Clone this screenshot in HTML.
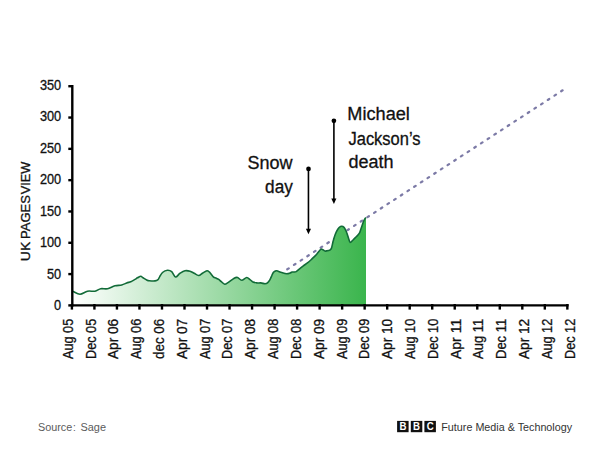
<!DOCTYPE html>
<html><head><meta charset="utf-8"><style>
html,body{margin:0;padding:0;background:#fff;width:600px;height:450px;overflow:hidden}
svg{display:block}
text{font-family:"Liberation Sans",sans-serif}
.k text{stroke:#111;stroke-width:0.3px}
</style></head><body>
<svg width="600" height="450" viewBox="0 0 600 450">
<defs>
<linearGradient id="g" gradientUnits="userSpaceOnUse" x1="73" y1="0" x2="365" y2="0">
<stop offset="0" stop-color="#ffffff"/>
<stop offset="1" stop-color="#3bb54d"/>
</linearGradient>
</defs>
<rect width="600" height="450" fill="#fff"/>
<line x1="287.25" y1="269.29" x2="564.5" y2="89.08" stroke="#7c7aa6" stroke-width="2.2" stroke-dasharray="1.8,6.167" stroke-linecap="round"/>
<path d="M73.3,291.5 C74.4,291.9 77.6,294.2 80.0,294.2 C82.4,294.1 85.0,291.7 87.5,291.2 C90.0,290.7 92.8,291.6 95.0,291.2 C97.2,290.8 98.7,289.1 100.8,288.7 C102.9,288.3 105.1,289.2 107.5,288.7 C109.9,288.2 112.6,286.4 115.0,285.8 C117.4,285.2 119.8,285.5 121.7,285.0 C123.7,284.5 125.2,283.6 126.7,283.0 C128.2,282.4 129.4,282.3 130.8,281.7 C132.2,281.1 133.9,280.0 135.0,279.4 C136.1,278.8 136.5,278.3 137.5,277.8 C138.5,277.3 139.9,276.2 140.8,276.2 C141.7,276.2 142.0,277.2 143.0,277.8 C144.0,278.4 145.7,279.5 146.7,280.0 C147.7,280.5 147.8,280.7 149.2,280.8 C150.6,280.9 153.5,281.1 155.0,280.9 C156.5,280.7 157.2,280.3 158.0,279.6 C158.8,278.9 158.8,278.1 159.6,276.9 C160.3,275.7 161.2,273.6 162.5,272.5 C163.8,271.4 166.0,270.4 167.5,270.3 C169.0,270.2 170.4,270.6 171.7,271.7 C173.0,272.8 174.1,276.7 175.5,277.0 C176.9,277.3 178.4,274.3 180.0,273.3 C181.6,272.3 183.3,271.2 185.0,270.8 C186.7,270.4 188.5,270.8 190.0,271.2 C191.5,271.6 192.8,272.6 194.2,273.3 C195.6,274.0 197.3,275.6 198.7,275.5 C200.1,275.4 201.3,273.8 202.7,273.0 C204.1,272.2 205.9,270.9 207.0,270.8 C208.1,270.7 208.4,271.2 209.5,272.2 C210.6,273.2 212.2,275.8 213.3,276.8 C214.4,277.8 215.1,277.7 216.0,278.1 C216.9,278.5 217.8,278.8 218.7,279.4 C219.6,280.0 220.3,280.9 221.3,281.7 C222.3,282.5 223.6,284.0 224.7,284.2 C225.8,284.4 226.4,283.6 228.0,282.6 C229.6,281.6 232.6,279.1 234.2,278.2 C235.8,277.3 236.2,277.1 237.5,277.5 C238.8,277.9 240.2,280.3 241.7,280.3 C243.2,280.3 245.3,277.6 246.7,277.5 C248.1,277.4 249.0,278.9 250.0,279.6 C251.0,280.3 251.4,281.1 252.5,281.7 C253.6,282.2 255.3,282.7 256.7,282.9 C258.1,283.1 259.4,282.8 260.8,282.9 C262.2,283.0 263.9,283.8 265.0,283.8 C266.1,283.8 266.7,283.6 267.5,282.9 C268.3,282.2 269.3,280.8 270.0,279.6 C270.7,278.4 271.1,277.0 271.7,275.8 C272.2,274.6 272.8,273.3 273.3,272.5 C273.9,271.7 274.4,271.5 275.0,271.2 C275.6,271.0 275.6,270.6 276.7,270.8 C277.8,271.0 280.0,272.0 281.7,272.5 C283.4,273.0 285.3,273.6 286.7,273.8 C288.1,273.9 289.1,273.4 290.0,273.1 C290.9,272.8 291.3,272.2 292.0,272.0 C292.7,271.8 293.3,272.1 294.0,272.0 C294.7,271.9 295.4,272.1 296.2,271.6 C297.0,271.2 297.7,270.3 298.9,269.3 C300.1,268.3 301.8,266.9 303.3,265.8 C304.8,264.7 306.3,263.9 307.8,262.7 C309.3,261.5 310.7,260.1 312.2,258.7 C313.7,257.3 315.3,255.8 316.7,254.2 C318.1,252.6 319.7,250.0 320.7,249.3 C321.7,248.6 322.2,249.5 322.9,249.8 C323.6,250.1 324.4,250.9 325.1,251.1 C325.8,251.2 326.6,250.8 327.3,250.7 C328.0,250.6 328.5,250.8 329.2,250.4 C329.9,250.0 330.8,249.9 331.4,248.4 C332.0,246.9 332.5,243.7 333.1,241.3 C333.8,238.9 334.5,236.2 335.3,234.2 C336.1,232.2 337.0,230.4 337.8,229.2 C338.6,228.0 339.2,227.3 339.9,226.8 C340.5,226.3 341.0,226.2 341.7,226.3 C342.4,226.4 343.1,226.5 343.8,227.1 C344.5,227.7 345.0,228.8 345.6,230.0 C346.2,231.2 346.7,232.6 347.2,234.0 C347.7,235.4 348.1,237.1 348.6,238.5 C349.1,239.9 349.5,242.2 350.2,242.4 C350.9,242.7 352.0,240.9 353.0,240.0 C354.0,239.1 355.1,237.9 356.2,236.8 C357.3,235.7 358.6,234.5 359.4,233.2 C360.2,231.9 360.5,230.3 361.0,228.8 C361.5,227.3 362.1,225.5 362.6,224.0 C363.1,222.5 363.7,221.0 364.2,220.0 C364.7,219.0 365.3,218.3 365.5,218.0 L366,218 L366,305.3 L73.3,305.3 Z" fill="url(#g)"/>
<path d="M73.3,291.5 C74.4,291.9 77.6,294.2 80.0,294.2 C82.4,294.1 85.0,291.7 87.5,291.2 C90.0,290.7 92.8,291.6 95.0,291.2 C97.2,290.8 98.7,289.1 100.8,288.7 C102.9,288.3 105.1,289.2 107.5,288.7 C109.9,288.2 112.6,286.4 115.0,285.8 C117.4,285.2 119.8,285.5 121.7,285.0 C123.7,284.5 125.2,283.6 126.7,283.0 C128.2,282.4 129.4,282.3 130.8,281.7 C132.2,281.1 133.9,280.0 135.0,279.4 C136.1,278.8 136.5,278.3 137.5,277.8 C138.5,277.3 139.9,276.2 140.8,276.2 C141.7,276.2 142.0,277.2 143.0,277.8 C144.0,278.4 145.7,279.5 146.7,280.0 C147.7,280.5 147.8,280.7 149.2,280.8 C150.6,280.9 153.5,281.1 155.0,280.9 C156.5,280.7 157.2,280.3 158.0,279.6 C158.8,278.9 158.8,278.1 159.6,276.9 C160.3,275.7 161.2,273.6 162.5,272.5 C163.8,271.4 166.0,270.4 167.5,270.3 C169.0,270.2 170.4,270.6 171.7,271.7 C173.0,272.8 174.1,276.7 175.5,277.0 C176.9,277.3 178.4,274.3 180.0,273.3 C181.6,272.3 183.3,271.2 185.0,270.8 C186.7,270.4 188.5,270.8 190.0,271.2 C191.5,271.6 192.8,272.6 194.2,273.3 C195.6,274.0 197.3,275.6 198.7,275.5 C200.1,275.4 201.3,273.8 202.7,273.0 C204.1,272.2 205.9,270.9 207.0,270.8 C208.1,270.7 208.4,271.2 209.5,272.2 C210.6,273.2 212.2,275.8 213.3,276.8 C214.4,277.8 215.1,277.7 216.0,278.1 C216.9,278.5 217.8,278.8 218.7,279.4 C219.6,280.0 220.3,280.9 221.3,281.7 C222.3,282.5 223.6,284.0 224.7,284.2 C225.8,284.4 226.4,283.6 228.0,282.6 C229.6,281.6 232.6,279.1 234.2,278.2 C235.8,277.3 236.2,277.1 237.5,277.5 C238.8,277.9 240.2,280.3 241.7,280.3 C243.2,280.3 245.3,277.6 246.7,277.5 C248.1,277.4 249.0,278.9 250.0,279.6 C251.0,280.3 251.4,281.1 252.5,281.7 C253.6,282.2 255.3,282.7 256.7,282.9 C258.1,283.1 259.4,282.8 260.8,282.9 C262.2,283.0 263.9,283.8 265.0,283.8 C266.1,283.8 266.7,283.6 267.5,282.9 C268.3,282.2 269.3,280.8 270.0,279.6 C270.7,278.4 271.1,277.0 271.7,275.8 C272.2,274.6 272.8,273.3 273.3,272.5 C273.9,271.7 274.4,271.5 275.0,271.2 C275.6,271.0 275.6,270.6 276.7,270.8 C277.8,271.0 280.0,272.0 281.7,272.5 C283.4,273.0 285.3,273.6 286.7,273.8 C288.1,273.9 289.1,273.4 290.0,273.1 C290.9,272.8 291.3,272.2 292.0,272.0 C292.7,271.8 293.3,272.1 294.0,272.0 C294.7,271.9 295.4,272.1 296.2,271.6 C297.0,271.2 297.7,270.3 298.9,269.3 C300.1,268.3 301.8,266.9 303.3,265.8 C304.8,264.7 306.3,263.9 307.8,262.7 C309.3,261.5 310.7,260.1 312.2,258.7 C313.7,257.3 315.3,255.8 316.7,254.2 C318.1,252.6 319.7,250.0 320.7,249.3 C321.7,248.6 322.2,249.5 322.9,249.8 C323.6,250.1 324.4,250.9 325.1,251.1 C325.8,251.2 326.6,250.8 327.3,250.7 C328.0,250.6 328.5,250.8 329.2,250.4 C329.9,250.0 330.8,249.9 331.4,248.4 C332.0,246.9 332.5,243.7 333.1,241.3 C333.8,238.9 334.5,236.2 335.3,234.2 C336.1,232.2 337.0,230.4 337.8,229.2 C338.6,228.0 339.2,227.3 339.9,226.8 C340.5,226.3 341.0,226.2 341.7,226.3 C342.4,226.4 343.1,226.5 343.8,227.1 C344.5,227.7 345.0,228.8 345.6,230.0 C346.2,231.2 346.7,232.6 347.2,234.0 C347.7,235.4 348.1,237.1 348.6,238.5 C349.1,239.9 349.5,242.2 350.2,242.4 C350.9,242.7 352.0,240.9 353.0,240.0 C354.0,239.1 355.1,237.9 356.2,236.8 C357.3,235.7 358.6,234.5 359.4,233.2 C360.2,231.9 360.5,230.3 361.0,228.8 C361.5,227.3 362.1,225.5 362.6,224.0 C363.1,222.5 363.7,221.0 364.2,220.0 C364.7,219.0 365.3,218.3 365.5,218.0" fill="none" stroke="#126b38" stroke-width="1.6" stroke-linejoin="round" stroke-linecap="round"/>
<g stroke="#000" stroke-width="2.4">
<line x1="72.3" y1="85" x2="72.3" y2="306.6"/>
<line x1="71" y1="305.4" x2="568.6" y2="305.4"/>
<line x1="71.90" y1="304" x2="71.90" y2="309.6"/><line x1="94.42" y1="304" x2="94.42" y2="309.6"/><line x1="116.94" y1="304" x2="116.94" y2="309.6"/><line x1="139.46" y1="304" x2="139.46" y2="309.6"/><line x1="161.98" y1="304" x2="161.98" y2="309.6"/><line x1="184.50" y1="304" x2="184.50" y2="309.6"/><line x1="207.02" y1="304" x2="207.02" y2="309.6"/><line x1="229.54" y1="304" x2="229.54" y2="309.6"/><line x1="252.06" y1="304" x2="252.06" y2="309.6"/><line x1="274.58" y1="304" x2="274.58" y2="309.6"/><line x1="297.10" y1="304" x2="297.10" y2="309.6"/><line x1="319.62" y1="304" x2="319.62" y2="309.6"/><line x1="342.14" y1="304" x2="342.14" y2="309.6"/><line x1="364.66" y1="304" x2="364.66" y2="309.6"/><line x1="387.18" y1="304" x2="387.18" y2="309.6"/><line x1="409.70" y1="304" x2="409.70" y2="309.6"/><line x1="432.22" y1="304" x2="432.22" y2="309.6"/><line x1="454.74" y1="304" x2="454.74" y2="309.6"/><line x1="477.26" y1="304" x2="477.26" y2="309.6"/><line x1="499.78" y1="304" x2="499.78" y2="309.6"/><line x1="522.30" y1="304" x2="522.30" y2="309.6"/><line x1="544.82" y1="304" x2="544.82" y2="309.6"/><line x1="567.34" y1="304" x2="567.34" y2="309.6"/>
<line x1="68.3" y1="305.40" x2="72" y2="305.40"/><line x1="68.3" y1="274.09" x2="72" y2="274.09"/><line x1="68.3" y1="242.78" x2="72" y2="242.78"/><line x1="68.3" y1="211.47" x2="72" y2="211.47"/><line x1="68.3" y1="180.16" x2="72" y2="180.16"/><line x1="68.3" y1="148.85" x2="72" y2="148.85"/><line x1="68.3" y1="117.54" x2="72" y2="117.54"/><line x1="68.3" y1="86.23" x2="72" y2="86.23"/>
</g>
<g class="k" font-size="14.5" fill="#111" text-anchor="end" transform="translate(61.2,0) scale(0.88,1)">
<text x="0" y="309.80">0</text><text x="0" y="278.89">50</text><text x="0" y="247.28">100</text><text x="0" y="215.57">150</text><text x="0" y="183.86">200</text><text x="0" y="153.00">250</text><text x="0" y="121.24">300</text><text x="0" y="90.13">350</text>
</g>
<g class="k" font-size="14" fill="#111">
<text transform="translate(72.70,359.00) rotate(-90)" textLength="40.2" lengthAdjust="spacingAndGlyphs">Aug 05</text><text transform="translate(95.52,359.00) rotate(-90)" textLength="40.2" lengthAdjust="spacingAndGlyphs">Dec 05</text><text transform="translate(118.34,359.00) rotate(-90)" textLength="40.2" lengthAdjust="spacingAndGlyphs">Apr 06</text><text transform="translate(141.16,359.00) rotate(-90)" textLength="40.2" lengthAdjust="spacingAndGlyphs">Aug 06</text><text transform="translate(163.98,359.00) rotate(-90)" textLength="40.2" lengthAdjust="spacingAndGlyphs">dec 06</text><text transform="translate(186.80,359.00) rotate(-90)" textLength="40.2" lengthAdjust="spacingAndGlyphs">Apr 07</text><text transform="translate(209.62,359.00) rotate(-90)" textLength="40.2" lengthAdjust="spacingAndGlyphs">Aug 07</text><text transform="translate(232.44,359.00) rotate(-90)" textLength="40.2" lengthAdjust="spacingAndGlyphs">Dec 07</text><text transform="translate(255.26,359.00) rotate(-90)" textLength="40.2" lengthAdjust="spacingAndGlyphs">Apr 08</text><text transform="translate(278.08,359.00) rotate(-90)" textLength="40.2" lengthAdjust="spacingAndGlyphs">Aug 08</text><text transform="translate(300.90,359.00) rotate(-90)" textLength="40.2" lengthAdjust="spacingAndGlyphs">Dec 08</text><text transform="translate(323.72,359.00) rotate(-90)" textLength="40.2" lengthAdjust="spacingAndGlyphs">Apr 09</text><text transform="translate(346.54,359.00) rotate(-90)" textLength="40.2" lengthAdjust="spacingAndGlyphs">Aug 09</text><text transform="translate(369.36,359.00) rotate(-90)" textLength="40.2" lengthAdjust="spacingAndGlyphs">Dec 09</text><text transform="translate(392.18,359.00) rotate(-90)" textLength="40.2" lengthAdjust="spacingAndGlyphs">Apr 10</text><text transform="translate(415.00,359.00) rotate(-90)" textLength="40.2" lengthAdjust="spacingAndGlyphs">Aug 10</text><text transform="translate(437.82,359.00) rotate(-90)" textLength="40.2" lengthAdjust="spacingAndGlyphs">Dec 10</text><text transform="translate(460.64,359.00) rotate(-90)" textLength="40.2" lengthAdjust="spacingAndGlyphs">Apr 11</text><text transform="translate(483.46,359.00) rotate(-90)" textLength="40.2" lengthAdjust="spacingAndGlyphs">Aug 11</text><text transform="translate(506.28,359.00) rotate(-90)" textLength="40.2" lengthAdjust="spacingAndGlyphs">Dec 11</text><text transform="translate(529.10,359.00) rotate(-90)" textLength="40.2" lengthAdjust="spacingAndGlyphs">Apr 12</text><text transform="translate(551.92,359.00) rotate(-90)" textLength="40.2" lengthAdjust="spacingAndGlyphs">Aug 12</text><text transform="translate(574.74,359.00) rotate(-90)" textLength="40.2" lengthAdjust="spacingAndGlyphs">Dec 12</text>
</g>
<g class="k" font-size="12" fill="#111">
<text transform="translate(29.7,261.2) rotate(-90)" textLength="19.6" lengthAdjust="spacingAndGlyphs">UK</text>
<text transform="translate(29.7,239.0) rotate(-90)" textLength="43.9" lengthAdjust="spacingAndGlyphs">PAGES</text>
<text transform="translate(29.7,194.2) rotate(-90)" textLength="32.6" lengthAdjust="spacingAndGlyphs">VIEW</text>
</g>
<g stroke="#000" stroke-width="1.6">
<line x1="308.45" y1="169" x2="308.45" y2="230"/>
<line x1="333.9" y1="121" x2="333.9" y2="200"/>
</g>
<circle cx="308.5" cy="168.9" r="2.35" fill="#000"/>
<circle cx="333.9" cy="120.8" r="2.35" fill="#000"/>
<path d="M305.9,228.7 L311,228.7 L308.45,234.2 Z" fill="#000"/>
<path d="M331.3,198.6 L336.4,198.6 L333.9,204 Z" fill="#000"/>
<g class="k" font-size="18" fill="#111">
<text x="292.50" y="169.30" text-anchor="end">Snow</text>
<text x="292.80" y="193.30" textLength="27.70" lengthAdjust="spacingAndGlyphs" text-anchor="end">day</text>
<text x="347.30" y="120.10" textLength="62.60" lengthAdjust="spacingAndGlyphs">Michael</text>
<text x="348.50" y="144.50" textLength="72.00" lengthAdjust="spacingAndGlyphs">Jackson’s</text>
<text x="348.50" y="168.30">death</text>
</g>
<g font-size="10" fill="#5c5c5c">
<text x="38.00" y="431.00" textLength="34.30" lengthAdjust="spacingAndGlyphs">Source</text>
<text x="73.00" y="431.00">:</text>
<text x="80.50" y="431.00" textLength="25.50" lengthAdjust="spacingAndGlyphs">Sage</text>
</g>
<rect x="397.1" y="420.9" width="11.5" height="11.3" fill="#111"/>
<rect x="410.8" y="420.9" width="11.5" height="11.3" fill="#111"/>
<rect x="424.4" y="420.9" width="11.5" height="11.3" fill="#111"/>
<g font-size="11.7" font-weight="bold" fill="#fff" text-anchor="middle">
<text x="402.9" y="430.2" textLength="7.0" lengthAdjust="spacingAndGlyphs">B</text><text x="416.55" y="430.2" textLength="7.0" lengthAdjust="spacingAndGlyphs">B</text><text x="430.15" y="430.2" textLength="7.0" lengthAdjust="spacingAndGlyphs">C</text>
</g>
<g font-size="11.2" fill="#333">
<text x="441.30" y="430.50" textLength="130.80" lengthAdjust="spacingAndGlyphs">Future Media &amp; Technology</text>
</g>
</svg>
</body></html>
